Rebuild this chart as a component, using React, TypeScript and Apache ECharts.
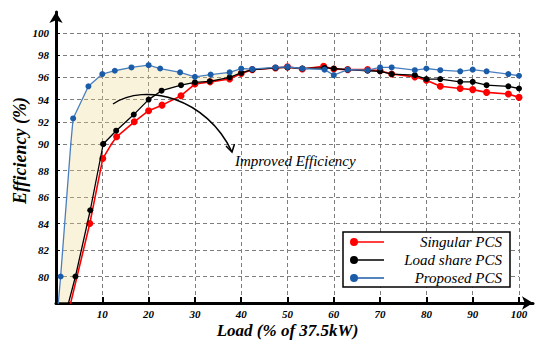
import React, { useEffect, useRef } from 'react';
import * as echarts from 'echarts';

// ---- data (Load % of 37.5kW, Efficiency %) ----
const singularX = [2, 7.3, 10.1, 13.1, 16.9, 20, 22.9, 27, 30, 33.3, 37.5, 40, 42.4, 47.4, 50, 53.2, 57.8, 60, 63, 67.3, 70, 72.5, 77.5, 80, 83, 87.3, 90, 93, 97.7, 100];
const singularY = [76.3, 84, 88.9, 90.65, 92.0, 93.0, 93.5, 94.35, 95.4, 95.6, 95.85, 96.35, 96.7, 96.85, 96.95, 96.75, 97.0, 96.75, 96.7, 96.7, 96.6, 96.3, 96.05, 95.75, 95.2, 95.0, 94.9, 94.65, 94.5, 94.2];

const loadShareX = [1.5, 4.2, 7.4, 10.2, 13, 16.8, 20, 22.8, 27, 30, 33.2, 37.5, 40, 42.4, 47.4, 50, 53.2, 58, 60, 63, 67.3, 70, 72.5, 77.5, 80, 83, 87.3, 90, 93, 97.7, 100];
const loadShareY = [76.4, 80, 85, 90, 91.2, 92.65, 94.0, 94.8, 95.3, 95.55, 95.65, 96.0, 96.4, 96.7, 96.85, 96.9, 96.8, 96.85, 96.8, 96.7, 96.6, 96.55, 96.3, 96.2, 95.85, 95.85, 95.6, 95.6, 95.3, 95.2, 95.0];

const proposedX = [0, 1, 3.7, 7, 10, 12.7, 16.3, 20, 22.5, 26.8, 30, 33.4, 37.5, 40, 42.4, 47.4, 50, 53.2, 58, 60, 63, 67.3, 70, 72.5, 77.5, 80, 83, 87.3, 90, 93, 97.7, 100];
const proposedY = [76.0, 80, 92.3, 95.2, 96.3, 96.6, 96.9, 97.1, 96.8, 96.45, 96.05, 96.25, 96.45, 96.8, 96.75, 96.9, 96.95, 96.8, 96.7, 96.2, 96.7, 96.65, 96.9, 96.9, 96.65, 96.8, 96.65, 96.55, 96.7, 96.55, 96.3, 96.15];

const xTicks = [0, 10, 20, 30, 40, 50, 60, 70, 80, 90, 100];
const seriesNames = ['Singular PCS', 'Load share PCS', 'Proposed PCS'];
const fillEndX = 42.4; // improved-efficiency band ends where curves merge

const zip = (xs: number[], ys: number[]) => xs.map((x, i) => [x, ys[i]]);

const FONT = '"Liberation Serif", "Times New Roman", serif';

export default function App() {
  const ref = useRef<HTMLDivElement>(null);

  useEffect(() => {
    if (!ref.current) return;
    const chart = echarts.init(ref.current, null, { renderer: 'svg' });

    const grids = [
      { left: 56, right: 31, top: 33, bottom: 200 }, // 90..100
      { left: 56, right: 31, top: 144, bottom: 41 }, // 78..90
      { left: 56, right: 17, top: 12, bottom: 41 }, // frame with arrows
    ];

    const dash = { color: '#7d7d7d', width: 1, type: [4, 3] as any };
    const labelFont = { fontFamily: FONT, fontStyle: 'italic', fontWeight: 'bold', fontSize: 11, color: '#000' };

    const xAxes: any[] = [0, 1].map((g) => ({
      type: 'value',
      gridIndex: g,
      min: xTicks[0],
      max: xTicks[xTicks.length - 1],
      interval: 10,
      axisLine: { show: false, onZero: false },
      axisTick: g === 1 ? { show: true, inside: true, length: 6, lineStyle: { color: '#000', width: 2 } } : { show: false },
      axisLabel: g === 1
        ? { show: true, margin: 5, ...labelFont, formatter: (v: number) => (v === 0 ? '' : String(v)) }
        : { show: false },
      splitLine: { show: true, showMinLine: false, lineStyle: dash },
      name: g === 1 ? 'Load (% of 37.5kW)' : '',
      nameLocation: 'middle',
      nameGap: 19,
      nameTextStyle: { fontFamily: FONT, fontStyle: 'italic', fontWeight: 'bold', fontSize: 17, color: '#000' },
    }));
    xAxes.push({
      type: 'value', gridIndex: 2, min: 0, max: 1,
      axisLine: { show: true, onZero: false, symbol: ['none', 'arrow'], symbolSize: [10, 11], lineStyle: { color: '#000', width: 3 } },
      axisTick: { show: false }, axisLabel: { show: false }, splitLine: { show: false },
    });

    const yAxes: any[] = [
      {
        type: 'value', gridIndex: 0, min: 90, max: 100, interval: 2,
        axisLine: { show: false },
        axisTick: { show: true, inside: true, length: 4, lineStyle: { color: '#000', width: 1 } },
        axisLabel: { margin: 7, ...labelFont, formatter: (v: number) => (v === 90 ? '' : String(v)) },
        splitLine: { show: true, showMinLine: false, lineStyle: dash },
      },
      {
        type: 'value', gridIndex: 1, min: 78, max: 90, interval: 2,
        axisLine: { show: false },
        axisTick: { show: true, inside: true, length: 4, lineStyle: { color: '#000', width: 1 } },
        axisLabel: { margin: 7, ...labelFont, formatter: (v: number) => (v < 80 ? '' : String(v)) },
        splitLine: { show: true, showMinLine: false, lineStyle: dash },
      },
      {
        type: 'value', gridIndex: 2, min: 0, max: 1,
        axisLine: { show: true, onZero: false, symbol: ['none', 'arrow'], symbolSize: [10, 11], lineStyle: { color: '#000', width: 3 } },
        axisTick: { show: false }, axisLabel: { show: false }, splitLine: { show: false },
        name: 'Efficiency (%)',
        nameLocation: 'middle',
        nameGap: 27,
        nameTextStyle: { fontFamily: FONT, fontStyle: 'italic', fontWeight: 'bold', fontSize: 18, color: '#000', padding: [0, 0, 0, 14] },
      },
    ];

    const defs = [
      { name: seriesNames[0], data: zip(singularX, singularY), color: '#ff0000', line: '#ff0000', width: 1.6, size: 7 },
      { name: seriesNames[1], data: zip(loadShareX, loadShareY), color: '#000000', line: '#000000', width: 1.3, size: 6 },
      { name: seriesNames[2], data: zip(proposedX, proposedY), color: '#1b5ca8', line: '#4a7fbf', width: 1.3, size: 6 },
    ];

    const upper = zip(proposedX, proposedY).filter((p) => p[0] <= fillEndX);
    const lower = zip(loadShareX, loadShareY).filter((p) => p[0] <= fillEndX).reverse();

    const series: any[] = [];
    [0, 1].forEach((g) => {
      series.push({
        type: 'custom',
        xAxisIndex: g,
        yAxisIndex: g,
        silent: true,
        clip: true,
        z: 1,
        data: [[0, 0]],
        renderItem: (_params: any, api: any) => ({
          type: 'polygon',
          shape: { points: [...upper, ...lower].map((p) => api.coord(p)) },
          style: { fill: 'rgba(240, 215, 140, 0.3)', stroke: 'none' },
        }),
      });
    });
    defs.forEach((d, i) => {
      [0, 1].forEach((g) => {
        series.push({
          type: 'line',
          name: d.name,
          xAxisIndex: g,
          yAxisIndex: g,
          data: d.data,
          clip: true,
          symbol: 'circle',
          symbolSize: d.size,
          showAllSymbol: true,
          z: 3 + i,
          itemStyle: { color: d.color },
          lineStyle: { color: d.line, width: d.width },
        });
      });
    });

    const option: any = {
      animation: false,
      backgroundColor: '#fff',
      grid: grids,
      xAxis: xAxes,
      yAxis: yAxes,
      legend: {
        data: seriesNames,
        orient: 'vertical',
        left: 343,
        top: 232,
        padding: [2, 8, 1, 7],
        itemGap: 2,
        itemWidth: 34,
        itemHeight: 8,
        selectedMode: false,
        backgroundColor: '#fff',
        borderColor: '#000',
        borderWidth: 1.5,
        icon: 'path://M0 4 A4 4 0 1 1 8 4 A4 4 0 1 1 0 4 Z M4 3.2 L34 3.2 L34 4.8 L4 4.8 Z',
        formatter: (name: string) => `{a|${name}}`,
        textStyle: {
          fontFamily: FONT, fontStyle: 'italic', fontSize: 15, lineHeight: 16, color: '#000',
          rich: { a: { width: 113, align: 'right', fontFamily: FONT, fontStyle: 'italic', fontSize: 15, lineHeight: 16, color: '#000' } },
        },
      },
      graphic: [
        {
          type: 'bezierCurve',
          z: 100,
          shape: { x1: 113, y1: 104, cpx1: 145, cpy1: 82, cpx2: 207, cpy2: 98, x2: 232, y2: 152 },
          style: { stroke: '#000', lineWidth: 1.5, fill: 'none' },
        },
        {
          type: 'polyline',
          z: 100,
          shape: { points: [[226, 146], [232, 152], [234.5, 144]] },
          style: { stroke: '#000', lineWidth: 1.5, fill: 'none' },
        },
        {
          type: 'text',
          z: 100,
          style: { text: 'Improved Efficiency', x: 235, y: 161, verticalAlign: 'middle', font: `italic 15px ${FONT}`, fill: '#000' },
        },
      ],
      series,
    };

    chart.setOption(option);
    return () => chart.dispose();
  }, []);

  return <div ref={ref} style={{ position: 'absolute', left: 0, top: 0, width: 550, height: 344 }} />;
}
